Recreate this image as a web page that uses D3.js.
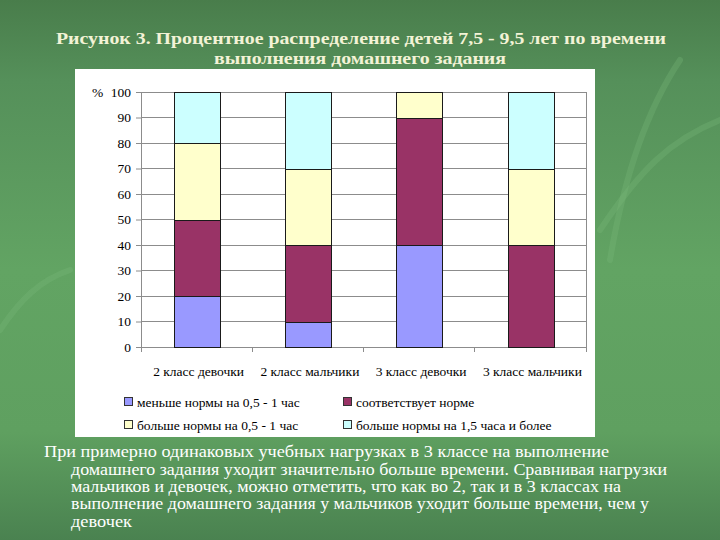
<!DOCTYPE html>
<html><head><meta charset="utf-8">
<script src="https://cdn.jsdelivr.net/npm/d3@7"></script>
<style>
html,body{margin:0;padding:0;background:#5a9a5c;font-family:"Liberation Serif";}
svg{display:block;}
</style></head>
<body>
<svg id="c" width="720" height="540"></svg>
<script>
const categories = ["2 класс девочки","2 класс мальчики","3 класс девочки","3 класс мальчики"];
const seriesNames = ["меньше нормы на 0,5 - 1 час","соответствует норме","больше нормы на 0,5 - 1 час","больше нормы на 1,5 часа и более"];
const lessNorm   = [20, 10, 40, 0];
const normal     = [30, 30, 50, 40];
const moreNorm   = [30, 30, 10, 30];
const muchMore   = [20, 30, 0, 30];
const yTicks = [0,10,20,30,40,50,60,70,80,90,100];
const titleLines = ["Рисунок 3. Процентное распределение детей 7,5 - 9,5 лет по времени","выполнения домашнего задания"];
const bodyLines = [
 "При примерно одинаковых учебных нагрузках в 3  классе на выполнение",
 "домашнего задания уходит значительно больше времени. Сравнивая нагрузки",
 "мальчиков и девочек, можно отметить, что как во 2, так и в 3 классах на",
 "выполнение домашнего задания у мальчиков уходит больше времени, чем у",
 "девочек"
];
const colors = ["#9999FF","#993366","#FFFFCC","#CCFFFF"];
const FONT = "Liberation Serif";

const svg = d3.select("#c");
function ft(sel, size, weight){
  return sel.attr("font-family",FONT).attr("font-size",size).attr("font-weight",weight||"normal")
    .style("font-family",FONT).style("font-size",size+"px").style("font-weight",weight||"normal");
}
const defs = svg.append("defs");
const g1 = defs.append("linearGradient").attr("id","bg").attr("x1",0).attr("y1",0).attr("x2",0).attr("y2",1);
[[0,"#497d4b"],[0.15,"#55905a"],[0.5,"#62a463"],[0.8,"#5fa060"],[1,"#4a8250"]].forEach(s=>g1.append("stop").attr("offset",s[0]).attr("stop-color",s[1]));
svg.append("rect").attr("width",720).attr("height",540).attr("fill","url(#bg)");
const deco = svg.append("g").attr("fill","none").attr("stroke","#7ab87a").attr("stroke-opacity",0.3).attr("stroke-width",6).attr("stroke-linecap","round");
deco.append("path").attr("d","M600,230 C640,170 670,140 720,120");
deco.append("path").attr("d","M610,260 C620,200 640,120 680,60");
deco.append("path").attr("d","M0,330 C20,300 40,280 70,270");

// title
const titleSpec = [[56,44,610],[214,64,292]];
ft(svg.append("g").selectAll("text").data(titleLines).join("text"),17,"bold")
  .attr("x",(d,i)=>titleSpec[i][0]).attr("y",(d,i)=>titleSpec[i][1])
  .attr("textLength",(d,i)=>titleSpec[i][2]).attr("lengthAdjust","spacingAndGlyphs")
  .attr("fill","#f3f3d6")
  .text(d=>d);

// panel
svg.append("rect").attr("x",75).attr("y",69).attr("width",520).attr("height",368).attr("fill","#ffffff");

const x = d3.scaleBand().domain(categories).range([141,586]).paddingInner(0.59).paddingOuter(0.295);
const xb = d3.scaleBand().domain(categories).range([141,586]);
const y = d3.scaleLinear().domain([0,100]).range([347,92]);

svg.append("g").selectAll("line").data(yTicks.filter(t=>t>0)).join("line")
  .attr("x1",141).attr("x2",586).attr("y1",d=>y(d)).attr("y2",d=>y(d))
  .attr("stroke","#8c8c8c").attr("stroke-width",1).attr("shape-rendering","crispEdges");
svg.append("line").attr("x1",586).attr("x2",586).attr("y1",y(100)).attr("y2",y(0))
  .attr("stroke","#8c8c8c").attr("shape-rendering","crispEdges");

const yAxis = svg.append("g").attr("transform","translate(141,0)")
  .call(d3.axisLeft(y).tickValues(yTicks).tickSize(5).tickPadding(5));
yAxis.attr("font-family",FONT).attr("font-size",13.5);
yAxis.select(".domain").attr("stroke","#8c8c8c");
yAxis.selectAll(".tick line").attr("stroke","#8c8c8c");
ft(yAxis.selectAll("text"),13.5).attr("fill","#000");
ft(svg.append("text"),13.5).attr("x",92).attr("y",y(100)+5).text("%");

const xAxisG = svg.append("g").attr("transform","translate(0,"+y(0)+")");
xAxisG.append("line").attr("x1",141).attr("x2",586).attr("stroke","#8c8c8c").attr("shape-rendering","crispEdges");
const bounds = categories.map(c=>xb(c)).concat([586]);
xAxisG.selectAll("line.t").data(bounds).join("line").attr("class","t")
  .attr("x1",d=>d).attr("x2",d=>d).attr("y1",0).attr("y2",5).attr("stroke","#8c8c8c").attr("shape-rendering","crispEdges");
ft(xAxisG.selectAll("text").data(categories).join("text"),13.5)
  .attr("x",d=>xb(d)+xb.bandwidth()/2+2).attr("y",29)
  .attr("text-anchor","middle").text(d=>d);

const rows = categories.map((c,i)=>({cat:c, s0:lessNorm[i], s1:normal[i], s2:moreNorm[i], s3:muchMore[i]}));
const stack = d3.stack().keys(["s0","s1","s2","s3"])(rows);
svg.append("g").selectAll("g").data(stack).join("g")
  .attr("fill",(d,i)=>colors[i])
  .selectAll("rect").data(d=>d.filter(p=>p[1]-p[0]>0)).join("rect")
  .attr("x",d=>Math.round(x(d.data.cat))+0.5)
  .attr("width",Math.round(x.bandwidth()))
  .attr("y",d=>Math.round(y(d[1]))+0.5)
  .attr("height",d=>Math.round(y(d[0]))-Math.round(y(d[1])))
  .attr("stroke","#1a1a1a").attr("stroke-width",1);

const legPos = [[124,402],[343,402],[124,425],[343,425]];
const leg = svg.append("g").selectAll("g").data(seriesNames).join("g")
  .attr("transform",(d,i)=>"translate("+legPos[i][0]+","+legPos[i][1]+")");
leg.append("rect").attr("x",0.5).attr("y",-4.5).attr("width",8).attr("height",8)
  .attr("fill",(d,i)=>colors[i]).attr("stroke","#333");
ft(leg.append("text"),13.5).attr("x",13).attr("y",4.5).text(d=>d);

const bodySpec = [[44,457,565],[71,475,596],[71,492,550],[71,509,578],[71,527,61]];
ft(svg.append("g").selectAll("text").data(bodyLines).join("text"),16)
  .attr("x",(d,i)=>bodySpec[i][0]).attr("y",(d,i)=>bodySpec[i][1])
  .attr("textLength",(d,i)=>bodySpec[i][2]).attr("lengthAdjust","spacingAndGlyphs")
  .attr("fill","#ffffff")
  .text(d=>d);
</script>
</body></html>
